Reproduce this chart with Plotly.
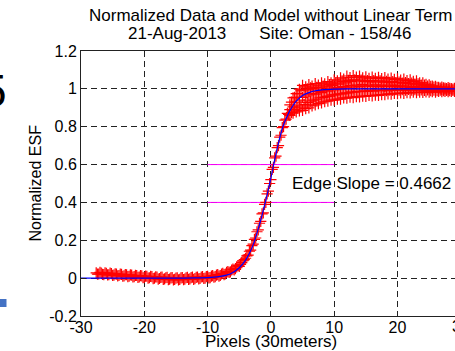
import plotly.graph_objects as go

# ---------------- data ----------------
left_x = [-27.6, -27.2, -26.8, -26.4, -26.0, -25.6, -25.2, -24.8, -24.4, -24.0,
          -23.6, -23.2, -22.8, -22.4, -22.0, -21.6, -21.2, -20.8, -20.4, -20.0,
          -19.6, -19.2, -18.8, -18.4, -18.0, -17.6, -17.2, -16.8, -16.4, -16.0,
          -15.6, -15.2, -14.8, -14.4, -14.0, -13.6, -13.2, -12.8, -12.4, -12.0,
          -11.6, -11.2, -10.8, -10.4, -10.0, -9.6, -9.2, -8.8, -8.4, -8.0,
          -7.6, -7.2, -6.8, -6.4, -6.0, -5.6, -5.2, -4.8, -4.4]
left_y = [0.028, 0.022, 0.027, 0.019, 0.025, 0.018, 0.024, 0.016, 0.021, 0.014,
          0.020, 0.012, 0.018, 0.010, 0.016, 0.008, 0.014, 0.006, 0.012, 0.004,
          0.010, 0.002, 0.008, 0.000, 0.006, -0.002, 0.005, -0.004, 0.004, -0.005,
          0.003, -0.006, 0.002, -0.006, 0.003, -0.005, 0.004, -0.004, 0.005, -0.003,
          0.006, -0.002, 0.008, 0.000, 0.010, 0.003, 0.013, 0.008, 0.019, 0.014,
          0.025, 0.022, 0.034, 0.033, 0.048, 0.050, 0.066, 0.072, 0.092]

left_x2 = [-27.4, -27.0, -26.6, -26.2, -25.8, -25.4, -25.0, -24.6, -24.2, -23.8,
           -23.4, -23.0, -22.6, -22.2, -21.8, -21.4, -21.0, -20.6, -20.2, -19.8,
           -19.4, -19.0, -18.6, -18.2, -17.8, -17.4, -17.0, -16.6, -16.2, -15.8,
           -15.4, -15.0, -14.6, -14.2, -13.8, -13.4, -13.0, -12.6, -12.2, -11.8,
           -11.4, -11.0, -10.6, -10.2, -9.8, -9.4, -9.0, -8.6, -8.2, -7.8,
           -7.4, -7.0, -6.6, -6.2, -5.8, -5.4, -5.0, -4.6, -4.2]
left_y2 = [0.021, 0.030, 0.020, 0.028, 0.017, 0.026, 0.015, 0.023, 0.012, 0.021,
           0.010, 0.019, 0.008, 0.017, 0.006, 0.015, 0.004, 0.013, 0.002, 0.011,
           0.000, 0.009, -0.003, 0.007, -0.005, 0.004, -0.007, 0.002, -0.008, 0.001,
           -0.009, 0.000, -0.009, 0.001, -0.008, 0.002, -0.007, 0.003, -0.006, 0.004,
           -0.004, 0.006, -0.002, 0.008, 0.001, 0.011, 0.005, 0.016, 0.011, 0.022,
           0.019, 0.031, 0.030, 0.043, 0.044, 0.060, 0.062, 0.082, 0.098]

rise_x = [-4.0, -3.8, -3.6, -3.4, -3.2, -3.0, -2.8, -2.6, -2.4, -2.2,
          -2.0, -1.8, -1.6, -1.4, -1.2, -1.0, -0.8, -0.6, -0.4, -0.2,
          0.0, 0.2, 0.4, 0.6, 0.8, 1.0, 1.2, 1.4, 1.6, 1.8,
          2.0, 2.2, 2.4, 2.6, 2.8]
rise_y = [0.105, 0.118, 0.122, 0.142, 0.148, 0.172, 0.180, 0.205, 0.212, 0.245,
          0.255, 0.290, 0.300, 0.340, 0.345, 0.390, 0.400, 0.445, 0.460, 0.500,
          0.520, 0.575, 0.585, 0.635, 0.645, 0.690, 0.700, 0.745, 0.755, 0.795,
          0.800, 0.835, 0.840, 0.870, 0.865]

top_x = [3.0, 3.5, 4.0, 4.5, 5.0, 5.5, 6.0, 6.5, 7.0, 7.5,
         8.0, 8.5, 9.0, 9.5, 10.0, 10.5, 11.0, 11.5, 12.0, 12.5,
         13.0, 13.5, 14.0, 14.5, 15.0, 15.5, 16.0, 16.5, 17.0, 17.5,
         18.0, 18.5, 19.0, 19.5, 20.0, 20.5, 21.0, 21.5, 22.0, 22.5,
         23.0, 23.5, 24.0, 24.5, 25.0, 25.5, 26.0, 26.5, 27.0, 27.5,
         28.0, 28.5, 29.0, 29.5, 30.0]
top_y_hi = [0.915, 0.952, 0.975, 0.998, 1.018, 1.010, 1.022, 1.015, 1.028, 1.020,
            1.032, 1.026, 1.038, 1.032, 1.048, 1.042, 1.058, 1.052, 1.068, 1.060,
            1.070, 1.062, 1.067, 1.058, 1.064, 1.056, 1.062, 1.055, 1.061, 1.054,
            1.059, 1.052, 1.057, 1.050, 1.053, 1.046, 1.052, 1.044, 1.047, 1.040,
            1.042, 1.032, 1.032, 1.024, 1.021, 1.014, 1.013, 1.008, 1.009, 1.004,
            1.006, 1.002, 1.003, 0.999, 1.001]
top_y_mid = [0.890, 0.905, 0.930, 0.940, 0.955, 0.962, 0.968, 0.975, 0.972, 0.985,
             0.980, 0.992, 0.988, 1.000, 0.995, 1.008, 1.000, 1.012, 1.005, 1.018,
             1.010, 1.020, 1.012, 1.022, 1.014, 1.020, 1.013, 1.021, 1.012, 1.019,
             1.013, 1.020, 1.012, 1.018, 1.012, 1.016, 1.010, 1.015, 1.008, 1.012,
             1.006, 1.010, 1.004, 1.006, 1.000, 1.003, 0.998, 1.001, 0.997, 0.999,
             0.996, 0.998, 0.995, 0.997, 0.996]
top_y_lo = [0.860, 0.872, 0.878, 0.884, 0.886, 0.896, 0.900, 0.910, 0.915, 0.922,
            0.926, 0.932, 0.935, 0.940, 0.941, 0.946, 0.946, 0.952, 0.951, 0.956,
            0.954, 0.959, 0.957, 0.962, 0.960, 0.965, 0.963, 0.967, 0.966, 0.970,
            0.969, 0.973, 0.972, 0.976, 0.975, 0.978, 0.976, 0.980, 0.978, 0.982,
            0.980, 0.983, 0.981, 0.984, 0.982, 0.985, 0.983, 0.986, 0.985, 0.987,
            0.985, 0.987, 0.986, 0.988, 0.986]

top_x2 = [3.25, 3.75, 4.25, 4.75, 5.25, 5.75, 6.25, 6.75, 7.25, 7.75,
          8.25, 8.75, 9.25, 9.75, 10.25, 10.75, 11.25, 11.75, 12.25, 12.75,
          13.25, 13.75, 14.25, 14.75, 15.25, 15.75, 16.25, 16.75, 17.25, 17.75,
          18.25, 18.75, 19.25, 19.75, 20.25, 20.75, 21.25, 21.75, 22.25, 22.75,
          23.25, 23.75, 24.25, 24.75, 25.25, 25.75, 26.25, 26.75, 27.25, 27.75,
          28.25, 28.75, 29.25, 29.75]
top_y_umid = [0.930, 0.955, 0.975, 0.990, 0.995, 1.000, 1.005, 1.000, 1.008, 1.005,
              1.015, 1.010, 1.022, 1.018, 1.030, 1.025, 1.038, 1.032, 1.045, 1.040,
              1.048, 1.042, 1.046, 1.040, 1.044, 1.038, 1.043, 1.037, 1.042, 1.036,
              1.040, 1.035, 1.038, 1.033, 1.036, 1.030, 1.033, 1.028, 1.030, 1.025,
              1.026, 1.020, 1.020, 1.015, 1.013, 1.009, 1.008, 1.004, 1.005, 1.001,
              1.003, 0.999, 1.001, 0.998]
top_y_lmid = [0.875, 0.890, 0.900, 0.910, 0.918, 0.928, 0.935, 0.940, 0.945, 0.952,
              0.955, 0.960, 0.962, 0.968, 0.968, 0.974, 0.973, 0.979, 0.978, 0.984,
              0.982, 0.987, 0.985, 0.990, 0.987, 0.992, 0.988, 0.993, 0.990, 0.994,
              0.991, 0.995, 0.992, 0.996, 0.993, 0.996, 0.993, 0.997, 0.993, 0.996,
              0.993, 0.995, 0.992, 0.994, 0.991, 0.993, 0.991, 0.993, 0.990, 0.992,
              0.990, 0.992, 0.990, 0.991]

model_x = [-30, -15, -12, -10, -9, -8, -7, -6, -5, -4, -3.5, -3, -2.5, -2, -1.5,
           -1, -0.5, 0, 0.5, 1, 1.5, 2, 2.5, 3, 3.5, 4, 5, 6, 7, 8, 10, 12, 30]
model_y = [0, 0, 0.001, 0.003, 0.005, 0.009, 0.016, 0.030, 0.055, 0.095, 0.125,
           0.160, 0.205, 0.260, 0.320, 0.385, 0.455, 0.530, 0.610, 0.685, 0.755,
           0.810, 0.850, 0.885, 0.912, 0.935, 0.965, 0.980, 0.990, 0.995, 0.999,
           1.0, 1.0]

edge_x = [-10, 10]
edge_levels = [0.4, 0.6]
edge_slope = 0.4662

x_ticks = [-30, -20, -10, 0, 10, 20, 30]
x_ticktext = ["-30", "-20", "-10", "0", "10", "20", "30"]
y_ticks = [-0.2, 0, 0.2, 0.4, 0.6, 0.8, 1.0, 1.2]
y_ticktext = ["-0.2", "0", "0.2", "0.4", "0.6", "0.8", "1", "1.2"]

title_line1 = "Normalized Data and Model without Linear Term"
title_line2 = "21-Aug-2013" + "\u00a0" * 7 + "Site: Oman - 158/46"

# ---------------- figure ----------------
FONT = "Arial, 'Liberation Sans', sans-serif"
W, H = 455, 351
L, T, B = 81, 51, 35
plot_w = W - L            # visible plot width (right part cropped)
px_per_unit = 6.33
x_max = -30 + plot_w / px_per_unit

fig = go.Figure()

for lvl in edge_levels:
    fig.add_trace(go.Scatter(x=edge_x, y=[lvl, lvl], mode="lines",
                             line=dict(color="#ff00ff", width=1),
                             hoverinfo="skip", showlegend=False))

marker = dict(symbol="cross-thin", size=8, line=dict(color="#ff0000", width=1.2))
for xs, ys in [(left_x, left_y), (left_x2, left_y2), (rise_x, rise_y),
               (top_x, top_y_hi), (top_x, top_y_mid), (top_x, top_y_lo),
               (top_x2, top_y_umid), (top_x2, top_y_lmid)]:
    fig.add_trace(go.Scatter(x=xs, y=ys, mode="markers", marker=marker,
                             showlegend=False, cliponaxis=True))

fig.add_trace(go.Scatter(x=model_x, y=model_y, mode="lines",
                         line=dict(color="#0000ff", width=1.2, shape="spline",
                                   smoothing=0.6),
                         showlegend=False))

grid = dict(showgrid=True, gridcolor="#222222", gridwidth=1, griddash="6px,4px",
            zeroline=False, showline=True, linecolor="#222222", linewidth=1,
            ticks="inside", ticklen=5, tickcolor="#222222",
            tickfont=dict(family=FONT, size=16, color="#000000"))

fig.update_xaxes(range=[-30, x_max], tickvals=x_ticks, ticktext=x_ticktext,
                 mirror="ticks", ticklabelstandoff=-3, **grid)
fig.update_yaxes(range=[-0.2, 1.2], tickvals=y_ticks, ticktext=y_ticktext,
                 mirror=False, **grid)

def px2paper_x(px):
    return (px - L) / plot_w

def py2paper_y(py):
    return (H - B - py) / (H - B - T)

def note(text, px, py, size=17, **kw):
    d = dict(text=text, x=px2paper_x(px), y=py2paper_y(py),
             xref="paper", yref="paper", showarrow=False,
             font=dict(family=FONT, size=size, color="#000"),
             xanchor="center", yanchor="middle")
    d.update(kw)
    return d

ann = [
    note(title_line1, 270.5, 15.5),
    note(title_line2, 269.5, 33),
    note("Normalized ESF", 35, 183.5, size=16, textangle=-90),
    note("Pixels (30meters)", 270.5, 341.5),
    note(x_ticktext[-1], 460.5, 326.5, size=16),  # cropped "30" tick label
    note("5", -6, 91, size=46),                   # cropped glyph from source page
    dict(text=f"Edge Slope = {edge_slope:.4f}", x=3.0, y=0.5,
         xref="x", yref="y", showarrow=False,
         font=dict(family=FONT, size=17, color="#000"),
         xanchor="left", yanchor="middle"),
]

fig.update_layout(
    width=W, height=H,
    margin=dict(l=L, r=0, t=T, b=B, pad=0),
    paper_bgcolor="white", plot_bgcolor="white",
    annotations=ann,
    shapes=[dict(type="rect", xref="paper", yref="paper",
                 x0=px2paper_x(0), x1=px2paper_x(6.5),
                 y0=py2paper_y(307), y1=py2paper_y(299),
                 fillcolor="#4472c4", line=dict(width=0))],
    showlegend=False,
)

fig.write_html("out.html")
